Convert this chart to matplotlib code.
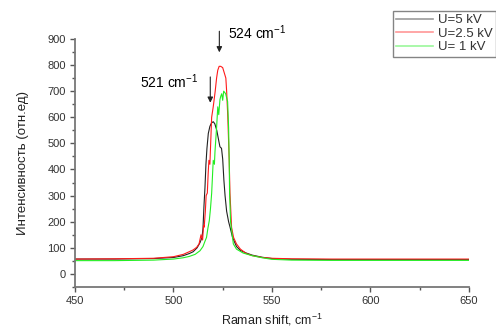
import matplotlib
matplotlib.use("Agg")
import matplotlib.pyplot as plt

plt.rcParams['font.family'] = ['Liberation Sans', 'DejaVu Sans']
plt.rcParams['mathtext.default'] = 'regular'

# U = 5 kV
shift_5 = [450, 470, 490, 500, 505, 508, 510, 512, 513.5, 514.5, 515, 515.5, 516, 516.5,
           517, 517.7, 518.5, 519.3, 520.2, 521, 522, 523, 523.6, 524.4, 525, 525.6,
           526.2, 527, 528, 528.7, 530, 532, 534, 537, 540, 545, 550, 560, 580, 600, 625, 650]
int_5 = [57, 57, 59, 63, 70, 78, 85, 100, 120, 140, 175, 260, 330, 420,
         480, 538, 565, 578, 583, 575, 550, 510, 487, 481, 440, 360,
         300, 240, 200, 180, 140, 105, 90, 80, 72, 64, 59, 56, 55, 55, 55, 55]

# U = 2.5 kV
shift_25 = [450, 470, 490, 500, 505, 508, 510, 511.8, 513, 514, 514.8, 515.3, 515.6, 516.2,
            516.6, 517.2, 517.6, 518, 518.5, 519, 519.4, 520.2, 521.2, 521.9, 522.5, 523.2,
            524, 525, 525.8, 526.6, 527, 527.6, 528.3, 528.7, 529.5, 530.5, 532, 534, 537,
            540, 545, 550, 560, 580, 600, 625, 650]
int_25 = [57, 58, 60, 66, 75, 85, 92, 102, 115, 150, 130, 185, 179, 240,
          300, 310, 380, 435, 420, 520, 600, 640, 700, 750, 780, 795,
          795, 790, 770, 750, 700, 600, 435, 309, 179, 140, 115, 95, 78,
          70, 63, 60, 58, 57, 57, 57, 57]

# U = 1 kV
shift_1 = [450, 470, 490, 500, 505, 508, 511, 513.5, 515, 516, 516.8, 517.5, 518.2, 518.8,
           519.4, 520.2, 520.8, 521.1, 521.9, 522.5, 523, 523.6, 524, 524.5, 525, 525.5,
           526.5, 527.5, 528, 528.3, 528.5, 529, 530.4, 532, 535.4, 540, 545, 550, 560,
           580, 600, 625, 650]
int_1 = [51, 51, 53, 57, 62, 67, 75, 89, 105, 125, 140, 175, 204, 250,
         309, 435, 420, 470, 560, 640, 610, 667, 680, 690, 665, 700,
         690, 660, 560, 435, 309, 200, 115, 95, 80, 70, 62, 56, 53,
         52, 52, 52, 52]

fig = plt.figure(figsize=(4.96, 3.27), dpi=100)
ax = fig.add_axes([0.151, 0.1223, 0.7946, 0.7587])

ax.plot(shift_5, int_5, color="#222222", lw=0.8, label="U=5 kV")
ax.plot(shift_25, int_25, color="#ff1a1a", lw=0.8, label="U=2.5 kV")
ax.plot(shift_1, int_1, color="#22ee22", lw=0.8, label="U= 1 kV")

ax.set_xlim(450, 650)
ax.set_ylim(-50, 900)
ax.set_xticks([450, 500, 550, 600, 650])
ax.set_xticks([475, 525, 575, 625], minor=True)
ax.set_yticks(range(0, 901, 100))
ax.set_yticks(range(-50, 901, 50), minor=True)

for s in ["top", "right"]:
    ax.spines[s].set_visible(False)
for s in ["left", "bottom"]:
    ax.spines[s].set_color("#777777")
    ax.spines[s].set_linewidth(1.3)
ax.tick_params(which="major", direction="out", length=3.5, width=1, color="#555555",
               labelsize=8, labelcolor="#333333", pad=3)
ax.tick_params(which="minor", direction="out", length=2, width=1, color="#555555")

ax.set_xlabel("Raman shift, cm$^{-1}$", fontsize=9, color="#222222", labelpad=4)
ax.set_ylabel("Интенсивность (отн.ед)", fontsize=9.5, color="#222222", labelpad=13)

ax.annotate("", xy=(518.7, 645), xytext=(518.7, 765),
            arrowprops=dict(arrowstyle="-|>", color="#222222", lw=0.8, mutation_scale=8))
ax.text(483, 735, "521 cm$^{-1}$", fontsize=10, va="center", ha="left")
ax.annotate("", xy=(523.3, 838), xytext=(523.3, 940),
            arrowprops=dict(arrowstyle="-|>", color="#222222", lw=0.8, mutation_scale=8),
            annotation_clip=False)
ax.text(527.7, 924, "524 cm$^{-1}$", fontsize=10, va="center", ha="left", clip_on=False)

leg = fig.legend(loc="upper left", bbox_to_anchor=(0.792, 0.967), fontsize=9.5,
                 frameon=True, fancybox=False, handlelength=2.8, labelspacing=0.1,
                 borderpad=0.25, handletextpad=0.4, borderaxespad=0)
leg.get_frame().set_edgecolor("#666666")
leg.get_frame().set_linewidth(1)
for h in leg.legend_handles:
    h.set_alpha(0.45)
    h.set_linewidth(1.2)
for t in leg.get_texts():
    t.set_color("#333333")

plt.savefig("out.png", dpi=100)
plt.close()
